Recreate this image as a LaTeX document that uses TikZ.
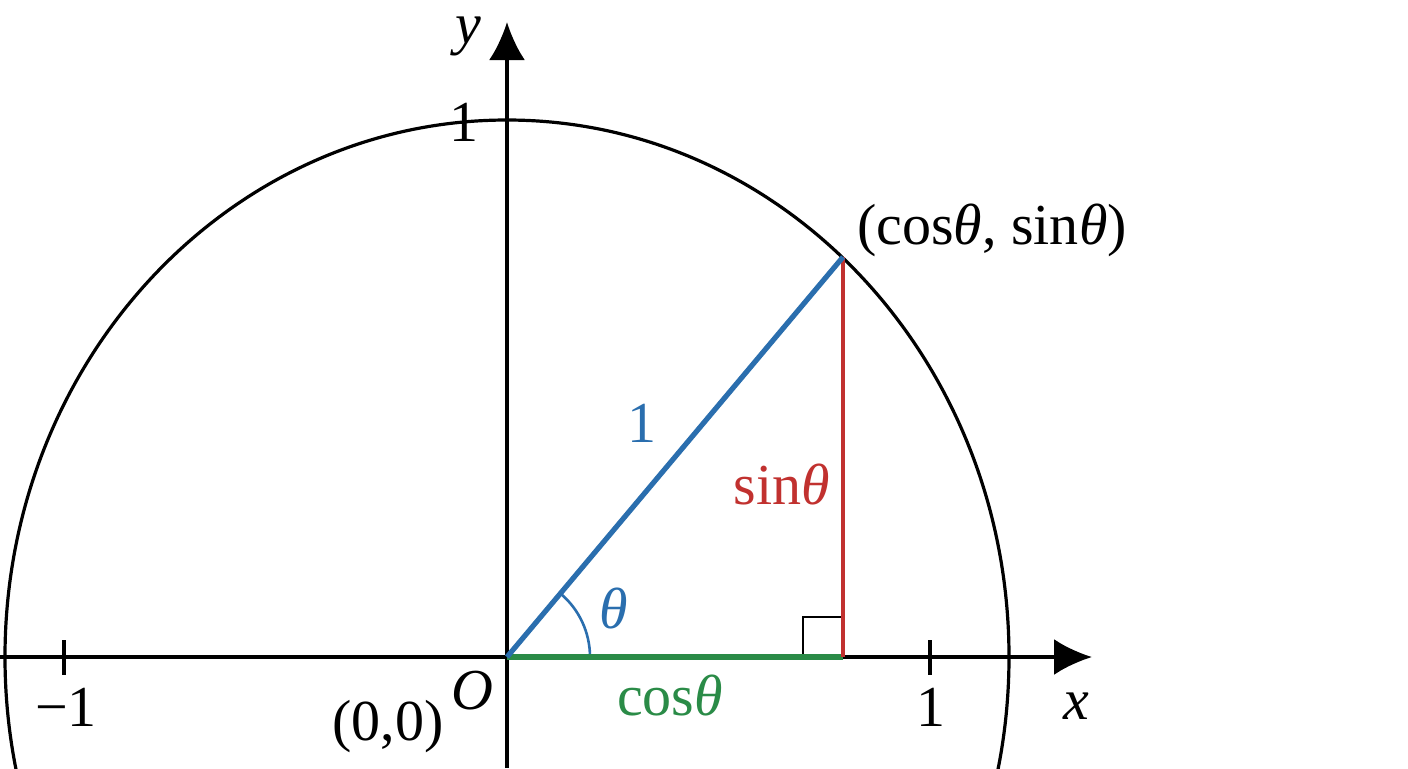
\documentclass[tikz,border=0pt]{standalone}
\usepackage{fontspec}
\setmainfont{Liberation Serif}
\usetikzlibrary{arrows.meta}
\definecolor{cblue}{HTML}{2A6EAE}
\definecolor{cred}{HTML}{C1312F}
\definecolor{cgreen}{HTML}{2A8B47}
\begin{document}
\begin{tikzpicture}[x=0.5pt,y=-0.5pt,
  lbl/.style={inner sep=0pt, font=\fontsize{29}{32}\selectfont},
  axis/.style={line width=1.7pt, -{Latex[length=19pt,width=18pt]}},
  tickmark/.style={line width=1.7pt},
  seg/.style={line width=2.6pt}]
\useasboundingbox (0,0) rectangle (1408,768);
\fill[white] (0,0) rectangle (1408,768);
\coordinate (O) at (507,657);
\coordinate (P) at (843,257);
\coordinate (F) at (843,657);
\coordinate (xs) at (0,657);
\coordinate (xe) at (1092,657);
\coordinate (ys) at (507,768);
\coordinate (ye) at (507,22);
\coordinate (tm) at (64,657);
\coordinate (tp) at (930,657);
% circle
\begin{scope}
\clip (0,0) rectangle (1408,768);
\draw[line width=1.6pt] (O) ellipse [x radius=502, y radius=537];
\end{scope}
% axes
\draw[axis] (xs) -- (xe);
\draw[axis] (ys) -- (ye);
\draw[tickmark] (tm) ++(0,-17) -- ++(0,35);
\draw[tickmark] (tp) ++(0,-17) -- ++(0,35);
% right angle mark
\draw[line width=1.1pt] (F) ++(-40,0) -- ++(0,-40) -- ++(40,0);
% angle arc
\draw[cblue, line width=1.3pt] (O) ++(83,0) arc[start angle=0, end angle=-50, radius=83];
% triangle
\draw[seg, cgreen] (O) -- (F);
\draw[seg, cred, line width=2.2pt] (F) -- (P);
\draw[seg, cblue] (O) -- (P);
% labels
\node[lbl] (ylab) at (468,36) {\textit{y}};
\node[lbl] (ytick) at (464,122) {1};
\node[lbl] (xlab) at (1076,706) {\textit{x}};
\node[lbl] (xm) at (66,707) {−1};
\node[lbl] (xp) at (931,707) {1};
\node[lbl] (olab) at (472,691) {\textit{O}};
\node[lbl] (zero) at (388,727) {(0,0)};
\node[lbl, text=cblue] (hyp) at (642,423) {1};
\node[lbl, text=cred] (sinl) at (782,484) {sin\textit{θ}};
\node[lbl, text=cgreen] (cosl) at (670,695) {cos\textit{θ}};
\node[lbl, text=cblue] (thl) at (614,608) {\textit{θ}};
\node[lbl] (plab) at (992,230) {(cos\textit{θ}, sin\textit{θ})};
\end{tikzpicture}
\end{document}
